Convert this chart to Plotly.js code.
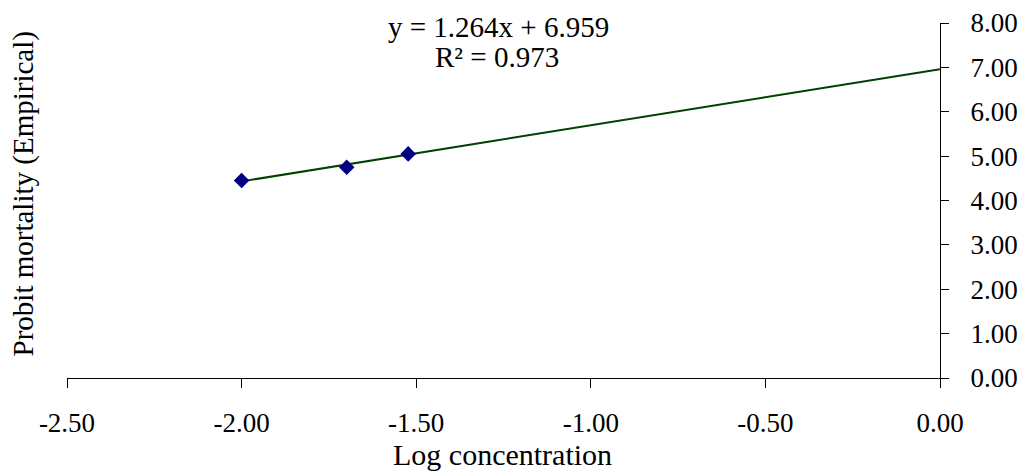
<!DOCTYPE html>
<html>
<head>
<meta charset="utf-8">
<script src="https://cdn.plot.ly/plotly-3.0.1.min.js"></script>
<style>html,body{margin:0;padding:0;background:#fff;}#chart{width:1028px;height:472px;}</style>
</head>
<body>
<div id="chart"></div>
<script>
const logConc = [-2.00, -1.699, -1.523];
const probit = [4.45, 4.75, 5.05];
const slope = 1.264;
const intercept = 6.959;
const rSquared = 0.973;
const trendRange = [-2.00, 0.00];
const xTicks = [-2.5, -2.0, -1.5, -1.0, -0.5, 0.0];
const xTickLabels = ['-2.50', '-2.00', '-1.50', '-1.00', '-0.50', '0.00'];
const yTicks = [0, 1, 2, 3, 4, 5, 6, 7, 8];
const yTickLabels = ['0.00', '1.00', '2.00', '3.00', '4.00', '5.00', '6.00', '7.00', '8.00'];

const fam = '"Liberation Serif", "Times New Roman", serif';
const tickFont = {family: fam, color: '#000', size: 27};
const titleFont = {family: fam, color: '#000', size: 30};
const yTitleFont = {family: fam, color: '#000', size: 29};
const eqFont = {family: fam, color: '#000', size: 29};

const trendY = trendRange.map(x => slope * x + intercept);

const data = [
  {x: trendRange, y: trendY, mode: 'lines', line: {color: '#004000', width: 2}, hoverinfo: 'skip'},
  {x: logConc, y: probit, mode: 'markers', marker: {symbol: 'diamond', color: '#000080', size: 12}}
];

const layout = {
  width: 1028, height: 472,
  margin: {l: 67, r: 88, t: 23, b: 94},
  paper_bgcolor: '#fff', plot_bgcolor: '#fff',
  showlegend: false,
  font: tickFont,
  xaxis: {
    range: [-2.5, 0], tickvals: xTicks, ticktext: xTickLabels,
    showgrid: false, zeroline: false, showline: true, linecolor: '#000', linewidth: 1,
    ticks: 'outside', ticklen: 9, tickcolor: '#000', tickwidth: 1,
    ticklabelstandoff: 12, tickfont: tickFont
  },
  yaxis: {
    range: [0, 8], tickvals: yTicks, ticktext: yTickLabels, side: 'right',
    showgrid: false, zeroline: false, showline: true, linecolor: '#000', linewidth: 1,
    ticks: 'outside', ticklen: 8, tickcolor: '#000', tickwidth: 1,
    ticklabelstandoff: 16, tickfont: tickFont
  },
  annotations: [
    {text: 'Probit mortality (Empirical)', textangle: -90, xref: 'paper', yref: 'paper',
     x: -0.05, y: 0.518, xanchor: 'center', yanchor: 'middle', showarrow: false, font: yTitleFont},
    {text: 'Log concentration', xref: 'paper', yref: 'paper', x: 0.499, y: -0.268,
     xanchor: 'center', yanchor: 'bottom', showarrow: false, font: titleFont},
    {text: 'y = ' + slope.toFixed(3) + 'x + ' + intercept.toFixed(3), xref: 'paper', yref: 'paper', x: 0.494, y: 0.988,
     xanchor: 'center', yanchor: 'middle', showarrow: false, font: eqFont},
    {text: 'R\u00B2 = ' + rSquared.toFixed(3), xref: 'paper', yref: 'paper', x: 0.493, y: 0.905,
     xanchor: 'center', yanchor: 'middle', showarrow: false, font: eqFont}
  ]
};

Plotly.newPlot('chart', data, layout, {displayModeBar: false, staticPlot: true});
</script>
</body>
</html>
